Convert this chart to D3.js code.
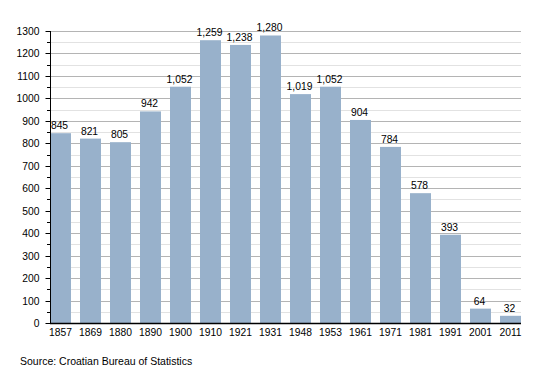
<!DOCTYPE html>
<html>
<head>
<meta charset="utf-8">
<script src="https://cdn.jsdelivr.net/npm/d3@7"></script>
<style>
  body { margin: 0; background: #fff; }
  text { font-family: "Liberation Sans", Arial, sans-serif; }
</style>
</head>
<body>
<svg width="550" height="373"></svg>
<script>
// census years and population
var years = ["1857","1869","1880","1890","1900","1910","1921","1931","1948","1953","1961","1971","1981","1991","2001","2011"];
var population = [845, 821, 805, 942, 1052, 1259, 1238, 1280, 1019, 1052, 904, 784, 578, 393, 64, 32];
var yTicks = [0,100,200,300,400,500,600,700,800,900,1000,1100,1200,1300];

var svg = d3.select("svg");
var plotLeft = 50, plotRight = 521, plotTop = 31, plotBottom = 323;

var x = d3.scaleBand()
	.domain(years)
	.range([plotLeft, plotRight])
	.paddingInner(0.3)
	.paddingOuter(0);

var y = d3.scaleLinear()
	.domain([0, 1300])
	.range([plotBottom, plotTop]);

// minor gridlines (every 50)
svg.append("g")
	.selectAll("line")
	.data(d3.range(50, 1300, 100))
	.enter().append("line")
		.attr("x1", plotLeft).attr("x2", plotRight)
		.attr("y1", function(d){ return Math.round(y(d)) + 0.5; })
		.attr("y2", function(d){ return Math.round(y(d)) + 0.5; })
		.attr("stroke", "#e2e2e2");

// major gridlines
svg.append("g")
	.selectAll("line")
	.data(yTicks.slice(1))
	.enter().append("line")
		.attr("x1", plotLeft).attr("x2", plotRight)
		.attr("y1", function(d){ return Math.round(y(d)) + 0.5; })
		.attr("y2", function(d){ return Math.round(y(d)) + 0.5; })
		.attr("stroke", "#b4b4b4");

// bars
svg.append("g")
	.selectAll("rect")
	.data(population)
	.enter().append("rect")
		.attr("x", function(d, i){ return x(years[i]); })
		.attr("y", function(d){ return y(d); })
		.attr("width", x.bandwidth())
		.attr("height", function(d){ return plotBottom - y(d); })
		.attr("fill", "#98b1cb");

// value labels
svg.append("g")
	.selectAll("text")
	.data(population)
	.enter().append("text")
		.attr("x", function(d, i){ return x(years[i]) + x.bandwidth() / 2 - 1; })
		.attr("y", function(d){ return y(d) - 4; })
		.attr("text-anchor", "middle")
		.style("font-size", "10.3px")
		.attr("fill", "#000")
		.text(function(d){ return d3.format(",")(d); });

// y axis
var yAxis = d3.axisLeft(y)
	.tickValues(yTicks)
	.tickSize(5)
	.tickPadding(6)
	.tickFormat(d3.format("d"));
var ga = svg.append("g")
	.attr("transform", "translate(" + (plotLeft + 0.5) + ",0)")
	.call(yAxis);
ga.select(".domain").attr("d", "M0," + plotTop + "V" + plotBottom).attr("stroke", "#000");
ga.selectAll(".tick").attr("transform", function(d){ return "translate(0," + (Math.round(y(d)) + 0.5) + ")"; });
ga.selectAll("text").style("font-size", "10.3px").attr("font-family", null);

// minor ticks
svg.append("g")
	.selectAll("line")
	.data(d3.range(50, 1300, 100))
	.enter().append("line")
		.attr("x1", plotLeft - 3).attr("x2", plotLeft)
		.attr("y1", function(d){ return Math.round(y(d)) + 0.5; })
		.attr("y2", function(d){ return Math.round(y(d)) + 0.5; })
		.attr("stroke", "#000");

// x axis
var xAxis = d3.axisBottom(x).tickSize(0).tickPadding(5);
var gx = svg.append("g")
	.attr("transform", "translate(0," + (plotBottom + 0.5) + ")")
	.call(xAxis);
gx.select(".domain").attr("d", "M" + plotLeft + ",0H" + plotRight).attr("stroke", "#000").attr("stroke-width", 1.5);
gx.selectAll("text").style("font-size", "10.3px").attr("font-family", null);

svg.append("text")
	.attr("x", 20)
	.attr("y", 365)
	.style("font-size", "10.5px")
	.text("Source: Croatian Bureau of Statistics");
</script>
</body>
</html>
